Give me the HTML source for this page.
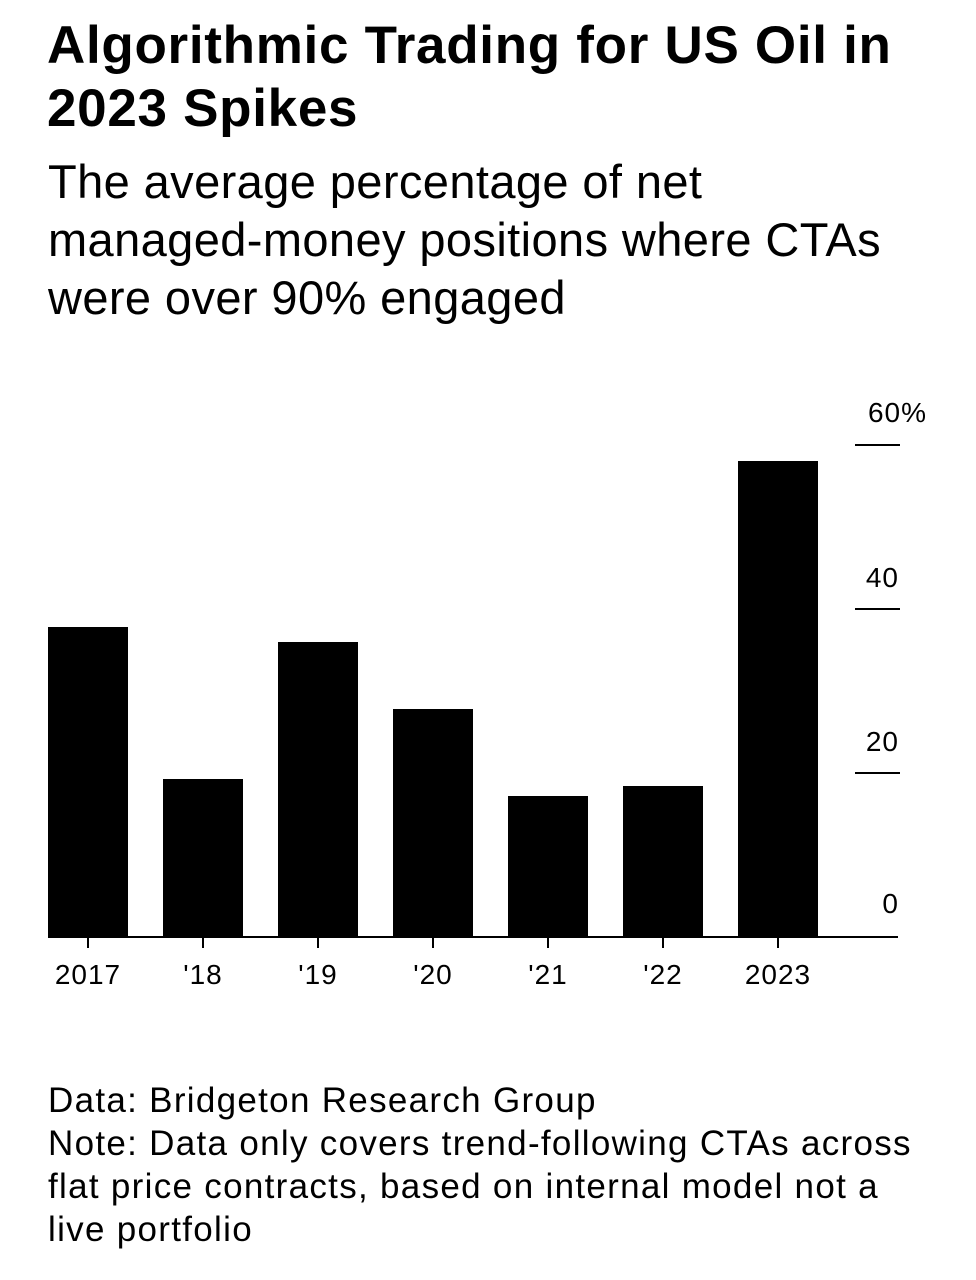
<!DOCTYPE html>
<html><head><meta charset="utf-8"><style>
body{margin:0;width:976px;height:1280px;background:#fff;font-family:"Liberation Sans",Arial,sans-serif;color:#000;position:relative;overflow:hidden}
.t{position:absolute;left:47px;top:14px;font-size:53px;font-weight:bold;line-height:63px;letter-spacing:0.7px;white-space:nowrap}
.s{position:absolute;left:48px;top:153px;font-size:47px;line-height:58px;letter-spacing:0.4px;white-space:nowrap}
.f{position:absolute;left:48px;top:1079px;font-size:35px;line-height:43px;letter-spacing:1.3px;white-space:nowrap}
</style></head><body>
<div class="t">Algorithmic Trading for US Oil in<br>2023 Spikes</div>
<div class="s">The average percentage of net<br>managed-money positions where CTAs<br>were over 90% engaged</div>
<svg width="976" height="1280" style="position:absolute;left:0;top:0" font-family="Liberation Sans,Arial,sans-serif">
<g fill="#000">
<rect x="48" y="627" width="80" height="310"/>
<rect x="163" y="779" width="80" height="158"/>
<rect x="278" y="642" width="80" height="295"/>
<rect x="393" y="709" width="80" height="228"/>
<rect x="508" y="796" width="80" height="141"/>
<rect x="623" y="786" width="80" height="151"/>
<rect x="738" y="461" width="80" height="476"/>
</g>
<g stroke="#000" stroke-width="2">
<line x1="48" y1="937" x2="898" y2="937"/>
<line x1="855" y1="445" x2="900" y2="445"/>
<line x1="855" y1="609" x2="900" y2="609"/>
<line x1="855" y1="773" x2="900" y2="773"/>
<line x1="88" y1="937" x2="88" y2="948"/>
<line x1="203" y1="937" x2="203" y2="948"/>
<line x1="318" y1="937" x2="318" y2="948"/>
<line x1="433" y1="937" x2="433" y2="948"/>
<line x1="548" y1="937" x2="548" y2="948"/>
<line x1="663" y1="937" x2="663" y2="948"/>
<line x1="778" y1="937" x2="778" y2="948"/>
</g>
<g font-size="28" text-anchor="end" letter-spacing="1">
<text x="927" y="422">60%</text>
<text x="899" y="587">40</text>
<text x="899" y="751">20</text>
<text x="899" y="913">0</text>
</g>
<g font-size="28" text-anchor="middle" letter-spacing="1">
<text x="88" y="984">2017</text>
<text x="203" y="984">'18</text>
<text x="318" y="984">'19</text>
<text x="433" y="984">'20</text>
<text x="548" y="984">'21</text>
<text x="663" y="984">'22</text>
<text x="778" y="984">2023</text>
</g>
</svg>
<div class="f">Data: Bridgeton Research Group<br>Note: Data only covers trend-following CTAs across<br>flat price contracts, based on internal model not a<br>live portfolio</div>
</body></html>
